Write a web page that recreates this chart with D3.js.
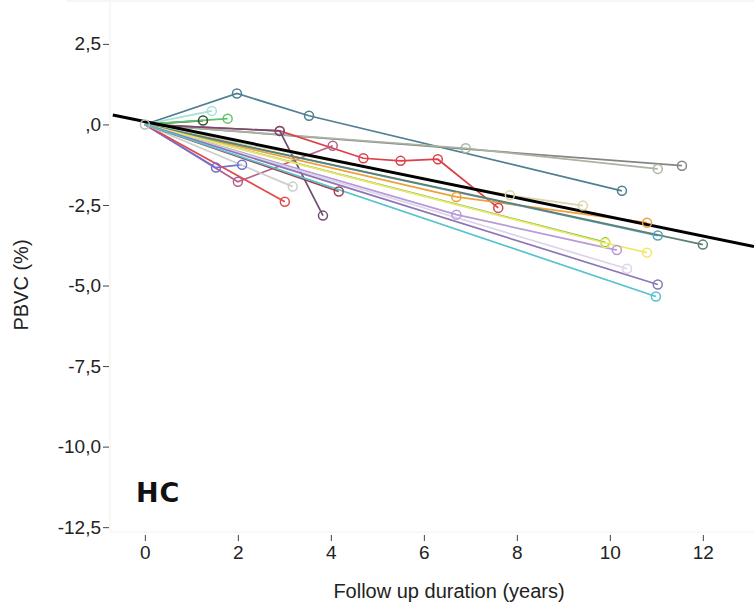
<!DOCTYPE html>
<html>
<head>
<meta charset="utf-8">
<script src="https://cdn.jsdelivr.net/npm/d3@7"></script>
<style>
  body { margin: 0; background: #fff; }
  svg { display: block; font-family: "Liberation Sans", Arial, sans-serif; }
</style>
</head>
<body>
<svg id="chart" width="754" height="606"></svg>
<script>
// follow-up times (years) per subject
var followUp = [
    [0, 1.98, 3.53, 10.26],
    [0, 11.55],
    [0, 6.9, 11.03],
    [0, 1.25],
    [0, 1.44],
    [0, 1.78],
    [0, 2.9, 4.7, 5.5, 6.3, 7.6],
    [0, 2.0, 4.04],
    [0, 2.9, 3.83],
    [0, 1.53, 2.09],
    [0, 3.01],
    [0, 3.18],
    [0, 4.17],
    [0, 6.7, 10.8],
    [0, 7.85, 9.42],
    [0, 11.03],
    [0, 12.0],
    [0, 9.9],
    [0, 6.7, 10.15],
    [0, 9.9, 10.8],
    [0, 10.37],
    [0, 11.03],
    [0, 10.99]
];
// PBVC (%) per subject, same order
var pbvc = [
    [0, 0.96, 0.27, -2.06],
    [0, -1.28],
    [0, -0.74, -1.38],
    [0, 0.12],
    [0, 0.42],
    [0, 0.18],
    [0, -0.2, -1.05, -1.13, -1.08, -2.59],
    [0, -1.78, -0.66],
    [0, -0.2, -2.83],
    [0, -1.34, -1.25],
    [0, -2.4],
    [0, -1.93],
    [0, -2.08],
    [0, -2.25, -3.05],
    [0, -2.2, -2.52],
    [0, -3.45],
    [0, -3.73],
    [0, -3.66],
    [0, -2.8, -3.9],
    [0, -3.68, -3.98],
    [0, -4.48],
    [0, -4.97],
    [0, -5.34]
];
var subjectColors = ["#4f7f91", "#858585", "#aab4a2", "#3b4a32", "#a8e0d8", "#5ec46a",
    "#dc4048", "#b8608c", "#6e4f72", "#6d72d8", "#df4a4a", "#c9cfc9", "#a2404a",
    "#f0a03a", "#ddd4a8", "#55a3c4", "#5f8070", "#66c23e", "#b79ad6", "#f2e66a",
    "#dcd4ea", "#8c76b4", "#55c2cc"];

// pooled regression line
var fitIntercept = 0.09, fitSlope = -0.296;
var fitRange = [-0.69, 13.1];

var yTicks = [2.5, 0, -2.5, -5, -7.5, -10, -12.5];
var xTicks = [0, 2, 4, 6, 8, 10, 12];

var plot = {left: 110, right: 754, top: 2, bottom: 532};

var svg = d3.select("#chart");

var x = d3.scaleLinear().domain([-0.75, 13.1]).range([plot.left, plot.right]);
var y = d3.scaleLinear().domain([3.8, -12.65]).range([plot.top, plot.bottom]);

// faint frame like the original export
svg.append("line")
    .attr("x1", plot.left).attr("x2", plot.left)
    .attr("y1", plot.top).attr("y2", plot.bottom)
    .attr("stroke", "#f0f0f0");
svg.append("line")
    .attr("x1", 67).attr("x2", 754)
    .attr("y1", 1).attr("y2", 1)
    .attr("stroke", "#ececf2");
svg.append("line")
    .attr("x1", plot.left).attr("x2", plot.right)
    .attr("y1", plot.bottom).attr("y2", plot.bottom)
    .attr("stroke", "#f2f2f2");

// y axis: only ticks and labels, SPSS style ",0" and hyphen minus
var yAxis = d3.axisLeft(y).tickValues(yTicks).tickSize(6).tickPadding(2)
    .tickFormat(function(d) {
        var s = Math.abs(d).toFixed(1).replace(".", ",").replace(/^0,/, ",");
        return (d < 0 ? "-" : "") + s;
    });
var gy = svg.append("g").attr("transform", "translate(" + (plot.left - 1) + ",0)").call(yAxis);
gy.select(".domain").remove();
gy.selectAll("line").attr("stroke", "#444");
gy.selectAll("text").attr("font-size", 19).attr("fill", "#222")
    .attr("font-family", "'Liberation Sans', Arial, sans-serif");

// x axis: ticks below plot
var xAxis = d3.axisBottom(x).tickValues(xTicks).tickSize(6).tickPadding(5);
var gx = svg.append("g").attr("transform", "translate(0," + (plot.bottom + 3) + ")").call(xAxis);
gx.select(".domain").remove();
gx.selectAll("line").attr("stroke", "#444");
gx.selectAll("text").attr("font-size", 19).attr("fill", "#222")
    .attr("font-family", "'Liberation Sans', Arial, sans-serif");

// axis titles
svg.append("text")
    .attr("x", 449).attr("y", 598)
    .attr("text-anchor", "middle")
    .attr("font-size", 20).attr("fill", "#222")
    .text("Follow up duration (years)");
svg.append("text")
    .attr("transform", "translate(28,285) rotate(-90)")
    .attr("text-anchor", "middle")
    .attr("font-size", 20).attr("fill", "#222")
    .text("PBVC (%)");

// group label
svg.append("text")
    .attr("x", 136).attr("y", 502)
    .attr("font-family", "'DejaVu Sans', Verdana, sans-serif")
    .attr("font-weight", "bold")
    .attr("font-size", 27).attr("letter-spacing", 1).attr("fill", "#111")
    .text("HC");

svg.append("clipPath").attr("id", "plotclip")
    .append("rect")
    .attr("x", plot.left).attr("y", plot.top)
    .attr("width", plot.right - plot.left).attr("height", plot.bottom - plot.top);

var g = svg.append("g").attr("clip-path", "url(#plotclip)");

var subjects = followUp.map(function(ts, i) {
    return ts.map(function(t, j) { return {t: t, v: pbvc[i][j]}; });
});

var line = d3.line().x(function(d) { return x(d.t); }).y(function(d) { return y(d.v); });

g.selectAll("path.subject")
    .data(subjects)
    .enter()
    .append("path")
    .attr("class", "subject")
    .attr("d", line)
    .attr("fill", "none")
    .attr("stroke", function(d, i) { return subjectColors[i]; })
    .attr("stroke-width", 1.7);

// the pooled fit goes above lines, circles on top
g.append("line")
    .attr("x1", x(fitRange[0])).attr("y1", y(fitIntercept + fitSlope * fitRange[0]))
    .attr("x2", x(fitRange[1])).attr("y2", y(fitIntercept + fitSlope * fitRange[1]))
    .attr("stroke", "#000")
    .attr("stroke-width", 3);

subjects.forEach(function(pts, i) {
    g.selectAll("circle.s" + i)
        .data(pts.slice(1))
        .enter()
        .append("circle")
        .attr("class", "s" + i)
        .attr("cx", function(d) { return x(d.t); })
        .attr("cy", function(d) { return y(d.v); })
        .attr("r", 4.5)
        .attr("fill", "none")
        .attr("stroke", subjectColors[i])
        .attr("stroke-width", 1.5);
});

// baseline circle shared by everyone
g.append("circle")
    .attr("cx", x(0)).attr("cy", y(0)).attr("r", 4.5)
    .attr("fill", "none").attr("stroke", "#bbb").attr("stroke-width", 1.5);
</script>
</body>
</html>
